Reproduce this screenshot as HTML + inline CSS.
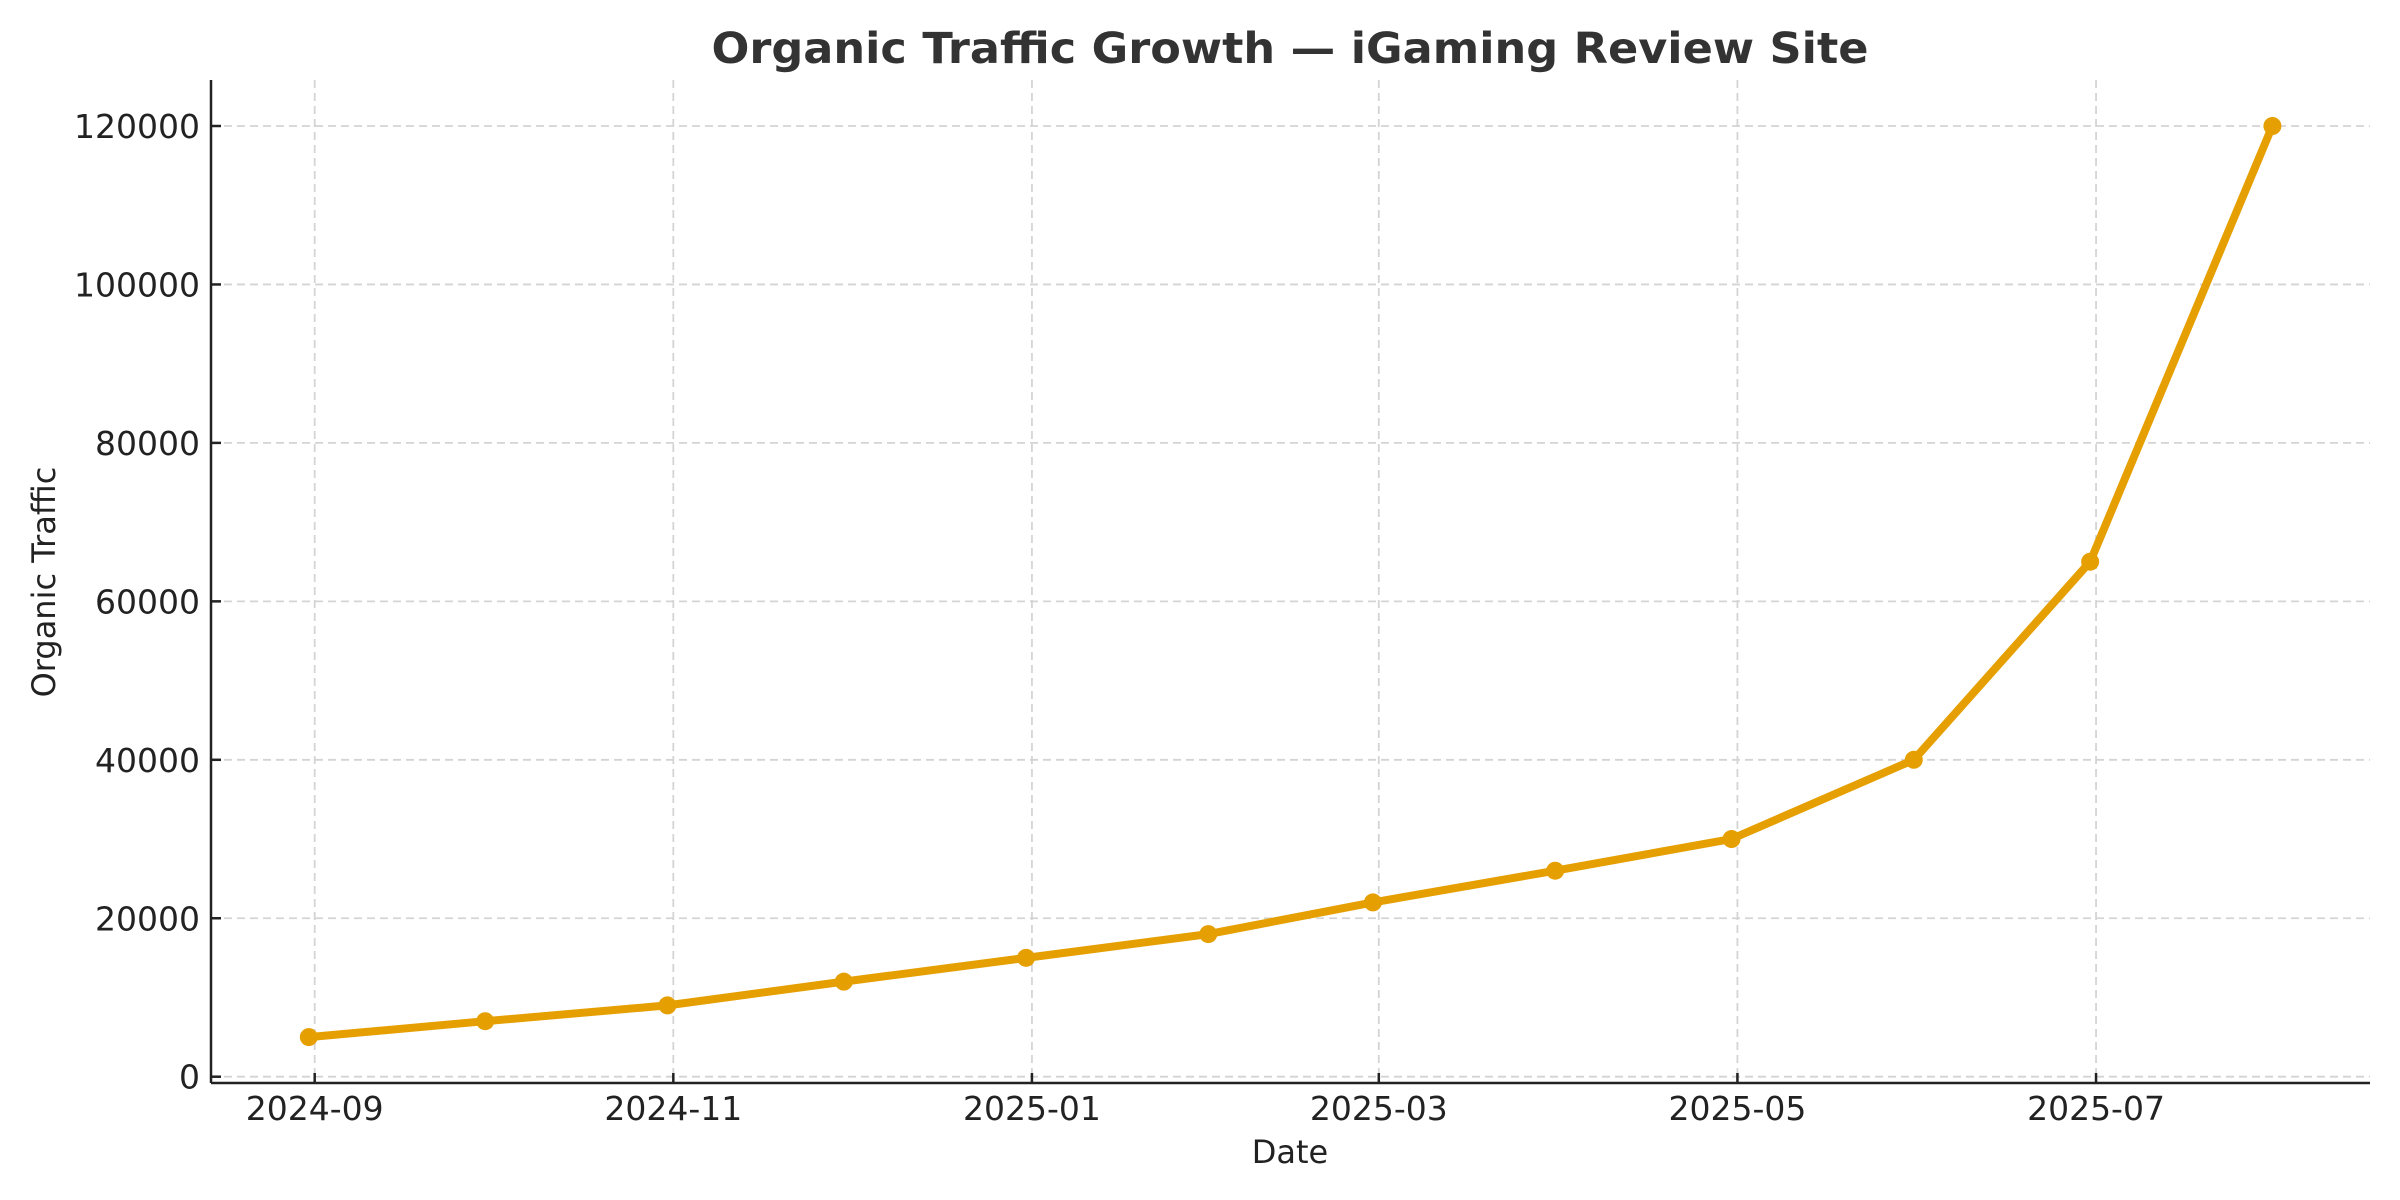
<!DOCTYPE html>
<html><head><meta charset="utf-8"><style>
html,body{margin:0;padding:0;background:#fff;}
svg{display:block;font-family:"DejaVu Sans","Liberation Sans",sans-serif;}
</style></head><body>
<svg id="chart" width="2400" height="1200" viewBox="0 0 2400 1200" xmlns="http://www.w3.org/2000/svg">
<rect width="2400" height="1200" fill="#fff"/>
<text x="1290" y="63" text-anchor="middle" font-size="43" font-weight="bold" fill="#333" textLength="1157" lengthAdjust="spacingAndGlyphs">Organic Traffic Growth — iGaming Review Site</text>
<g id="grid"></g>
<g id="ticks"></g>
<line x1="211" y1="80" x2="211" y2="1083" stroke="#222" stroke-width="2.5"/>
<line x1="211" y1="1083" x2="2370" y2="1083" stroke="#222" stroke-width="2.5"/>
<g id="series"></g>
<text x="1290" y="1163" text-anchor="middle" font-size="32" fill="#222">Date</text>
<text transform="translate(55,582) rotate(-90)" text-anchor="middle" font-size="32" fill="#222">Organic Traffic</text>
</svg>
<script>
const dates = ["2024-08-31","2024-09-30","2024-10-31","2024-11-30","2024-12-31","2025-01-31","2025-02-28","2025-03-31","2025-04-30","2025-05-31","2025-06-30","2025-07-31"];
const traffic = [5000,7000,9000,12000,15000,18000,22000,26000,30000,40000,65000,120000];
const xTickLabels = ["2024-09","2024-11","2025-01","2025-03","2025-05","2025-07"];
const yTickValues = [0,20000,40000,60000,80000,100000,120000];

const NS="http://www.w3.org/2000/svg";
const day=86400000, t0=Date.UTC(2024,8,1);
function xScale(s){const d=(Date.parse(s+(s.length===7?"-01":""))-t0)/day;return 314.7+d*5.879;}
function yScale(v){return 1076.7-v*(950.7/120000);}
function mk(tag,attrs,parent){const e=document.createElementNS(NS,tag);for(const k in attrs)e.setAttribute(k,attrs[k]);parent.appendChild(e);return e;}
const grid=document.getElementById('grid'), ticks=document.getElementById('ticks'), series=document.getElementById('series');
yTickValues.forEach(v=>{
  const y=yScale(v);
  const g=mk('line',{x1:211,x2:2370,y1:y,y2:y,stroke:'#d4d4d4','stroke-width':1.8,'stroke-dasharray':'8,5'},grid);
  
  
  const t=mk('line',{x1:211,x2:221,y1:y,y2:y,stroke:'#222','stroke-width':2.5},ticks);
  
  
  const l=mk('text',{x:200,y:y+12,'text-anchor':'end','font-size':33,fill:'#222'},ticks);
  l.textContent=String(v);
  
  
});
xTickLabels.forEach(s=>{
  const x=xScale(s);
  const g=mk('line',{x1:x,x2:x,y1:80,y2:1083,stroke:'#d4d4d4','stroke-width':1.8,'stroke-dasharray':'8,5'},grid);
  
  
  const t=mk('line',{x1:x,x2:x,y1:1083,y2:1073,stroke:'#222','stroke-width':2.5},ticks);
  
  
  const l=mk('text',{x:x,y:1120,'text-anchor':'middle','font-size':33,fill:'#222'},ticks);
  l.textContent=s;
  
  
});
const pts=dates.map((d,i)=>xScale(d).toFixed(1)+','+yScale(traffic[i]).toFixed(1)).join(' ');
const line=mk('polyline',{points:pts,fill:'none',stroke:'#E69F00','stroke-width':8,'stroke-linejoin':'round','stroke-linecap':'round'},series);


dates.forEach((d,i)=>{
  const c=mk('circle',{cx:xScale(d),cy:yScale(traffic[i]),r:9,fill:'#E69F00'},series);
  
  
});
</script>
</body></html>
